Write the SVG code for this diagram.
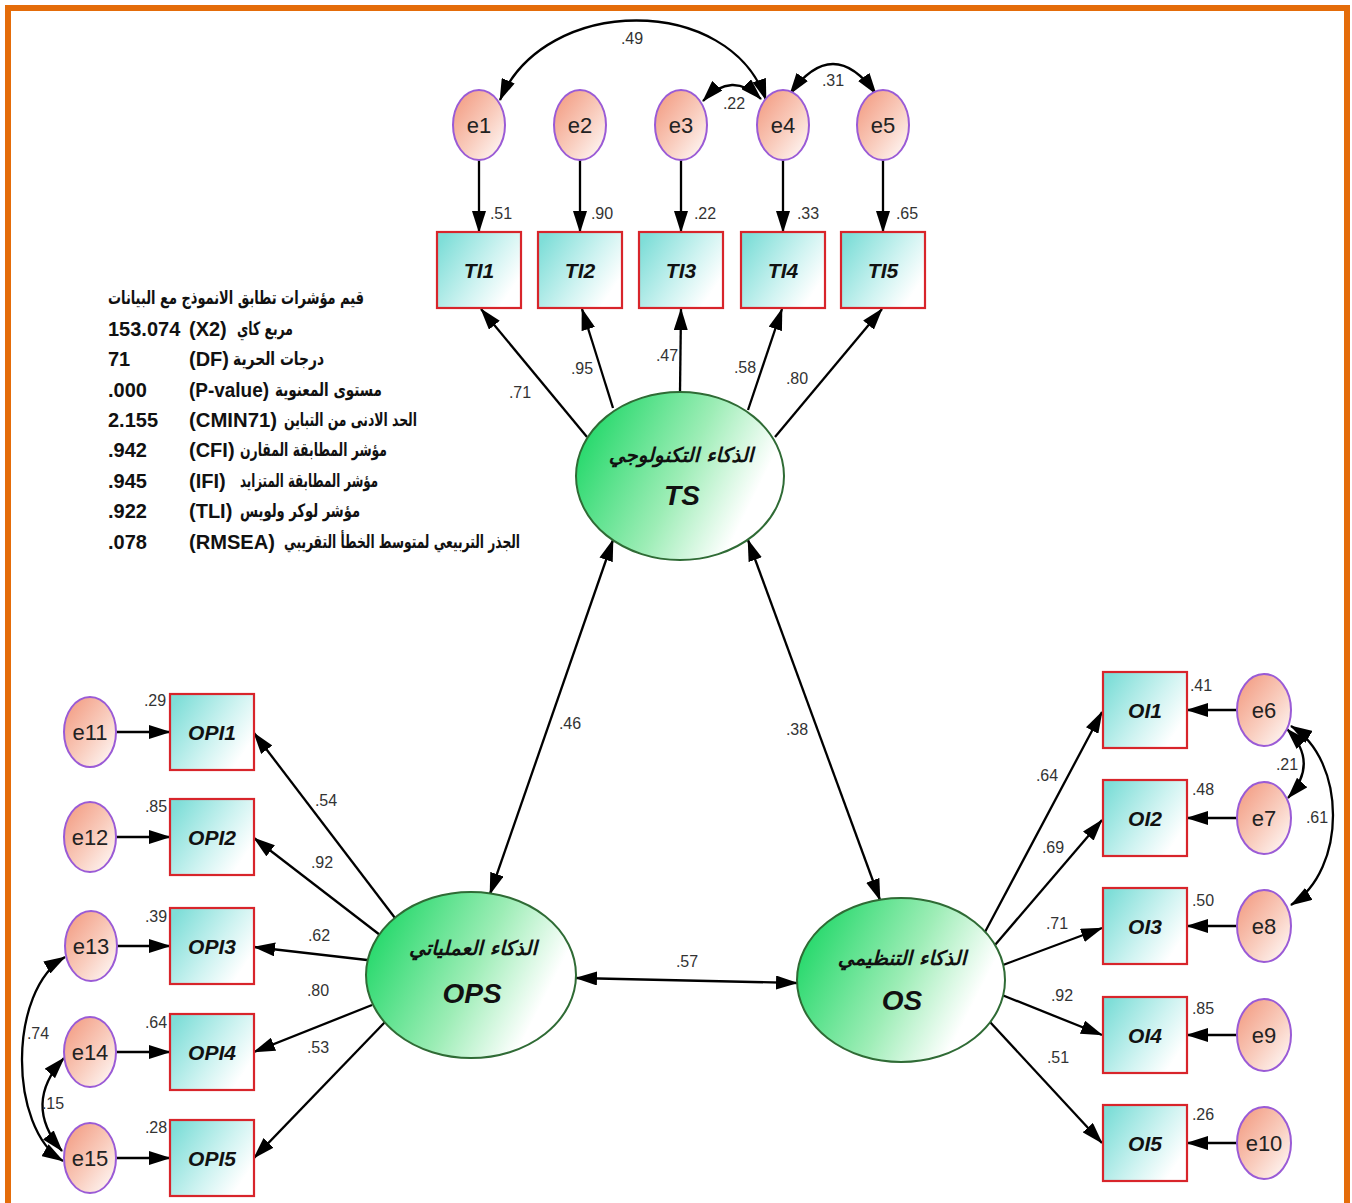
<svg xmlns="http://www.w3.org/2000/svg" width="1352" height="1203" viewBox="0 0 1352 1203">
  <defs>
    <linearGradient id="gErr" x1="0" y1="0" x2="1" y2="1">
      <stop offset="0" stop-color="#F2957A"/>
      <stop offset="0.55" stop-color="#F9CDBE"/>
      <stop offset="1" stop-color="#FFFFFF"/>
    </linearGradient>
    <linearGradient id="gBox" x1="0" y1="0.2" x2="1" y2="0.8">
      <stop offset="0" stop-color="#7FDED8"/>
      <stop offset="0.55" stop-color="#CFF3F1"/>
      <stop offset="0.9" stop-color="#FFFFFF"/>
    </linearGradient>
    <linearGradient id="gLat" x1="0" y1="0.3" x2="1" y2="0.7">
      <stop offset="0" stop-color="#22D869"/>
      <stop offset="0.5" stop-color="#9DEDB6"/>
      <stop offset="0.85" stop-color="#FFFFFF"/>
    </linearGradient>
    <marker id="ah" viewBox="0 0 22 14" refX="21" refY="7" markerWidth="22" markerHeight="14" markerUnits="userSpaceOnUse" orient="auto-start-reverse">
      <path d="M0,0 L22,7 L0,14 z" fill="#000"/>
    </marker>
  </defs>
  <style>
    .err { fill: url(#gErr); stroke: #9A5BD6; stroke-width: 2; }
    .box { fill: url(#gBox); stroke: #D8252B; stroke-width: 2.2; }
    .lat { fill: url(#gLat); stroke: #2F6B35; stroke-width: 2; }
    .elab { font-family: "Liberation Sans", Arial, sans-serif; font-size: 22px; fill: #222; text-anchor: middle; }
    .blab { font-family: "Liberation Sans", Arial, sans-serif; font-size: 21px; font-weight: bold; font-style: italic; fill: #111; text-anchor: middle; }
    .ar { font-family: "DejaVu Sans", "Noto Sans", sans-serif; font-size: 20px; font-weight: bold; font-style: italic; fill: #111; text-anchor: middle; }
    .code { font-family: "Liberation Sans", Arial, sans-serif; font-size: 28px; font-weight: bold; font-style: italic; fill: #111; text-anchor: middle; }
    .num { font-family: "Liberation Sans", Arial, sans-serif; font-size: 16px; fill: #333; text-anchor: middle; }
    .fit { font-family: "Liberation Sans", "DejaVu Sans", sans-serif; font-size: 20px; font-weight: bold; fill: #111; }
    .fitar { font-family: "DejaVu Sans", "Liberation Sans", sans-serif; font-size: 18.5px; font-weight: bold; fill: #111; }
    .ln { fill: none; stroke: #000; stroke-width: 2.3; marker-end: url(#ah); }
    .cv { fill: none; stroke: #000; stroke-width: 2.3; marker-start: url(#ah); marker-end: url(#ah); }
  </style>

  <rect x="0" y="0" width="1352" height="1203" fill="#FFFFFF"/>
  <rect x="8" y="8" width="1339" height="1230" fill="none" stroke="#E46C0A" stroke-width="6"/>

  <!-- connectors -->
  <g id="connectors">
    <!-- error terms to TI indicators -->
    <path class="ln" d="M479,160 L479,232"/>
    <path class="ln" d="M580,160 L580,232"/>
    <path class="ln" d="M681,160 L681,232"/>
    <path class="ln" d="M783,160 L783,232"/>
    <path class="ln" d="M883,160 L883,232"/>
    <!-- TS loadings -->
    <path class="ln" d="M587,437 L481,309"/>
    <path class="ln" d="M613,408 L582,309"/>
    <path class="ln" d="M680,392 L681,309"/>
    <path class="ln" d="M748,410 L782,309"/>
    <path class="ln" d="M775,437 L882,309"/>
    <!-- error covariances, top -->
    <path class="cv" d="M766,100 C730,-6 545,-6 500,100"/>
    <path class="cv" d="M703,101 Q732,70 761,99"/>
    <path class="cv" d="M790,94 Q833,34 876,94"/>
    <!-- latent covariances -->
    <path class="cv" d="M613,540 L490,894"/>
    <path class="cv" d="M748,540 L880,900"/>
    <path class="cv" d="M576,978 L797,983"/>
    <!-- OPS loadings -->
    <path class="ln" d="M395,918 L254,733"/>
    <path class="ln" d="M380,935 L254,838"/>
    <path class="ln" d="M367,960 L254,947"/>
    <path class="ln" d="M372,1005 L254,1052"/>
    <path class="ln" d="M385,1022 L254,1158"/>
    <!-- errors to OPI indicators -->
    <path class="ln" d="M116,732 L170,732"/>
    <path class="ln" d="M116,837 L170,837"/>
    <path class="ln" d="M116,946 L170,946"/>
    <path class="ln" d="M116,1052 L170,1052"/>
    <path class="ln" d="M116,1158 L170,1158"/>
    <!-- error covariances, left -->
    <path class="cv" d="M65,957 C8,990 8,1128 63,1161"/>
    <path class="cv" d="M64,1058 Q22,1104 62,1151"/>
    <!-- OS loadings -->
    <path class="ln" d="M985,932 L1102,712"/>
    <path class="ln" d="M995,945 L1102,820"/>
    <path class="ln" d="M1003,965 L1102,928"/>
    <path class="ln" d="M1002,995 L1102,1035"/>
    <path class="ln" d="M990,1022 L1102,1143"/>
    <!-- errors to OI indicators -->
    <path class="ln" d="M1237,710 L1187,710"/>
    <path class="ln" d="M1237,818 L1187,818"/>
    <path class="ln" d="M1237,926 L1187,926"/>
    <path class="ln" d="M1237,1035 L1187,1035"/>
    <path class="ln" d="M1237,1143 L1187,1143"/>
    <!-- error covariances, right -->
    <path class="cv" d="M1287,729 Q1320,763 1288,798"/>
    <path class="cv" d="M1291,726 C1347,760 1347,870 1291,905"/>
  </g>

  <!-- path coefficients and squared multiple correlations -->
  <g id="coefficients">
    <text class="num" x="632" y="44">.49</text>
    <text class="num" x="734" y="109">.22</text>
    <text class="num" x="833" y="86">.31</text>
    <text class="num" x="501" y="219">.51</text>
    <text class="num" x="602" y="219">.90</text>
    <text class="num" x="705" y="219">.22</text>
    <text class="num" x="808" y="219">.33</text>
    <text class="num" x="907" y="219">.65</text>
    <text class="num" x="520" y="398">.71</text>
    <text class="num" x="582" y="374">.95</text>
    <text class="num" x="667" y="361">.47</text>
    <text class="num" x="745" y="373">.58</text>
    <text class="num" x="797" y="384">.80</text>
    <text class="num" x="570" y="729">.46</text>
    <text class="num" x="797" y="735">.38</text>
    <text class="num" x="687" y="967">.57</text>
    <text class="num" x="326" y="806">.54</text>
    <text class="num" x="322" y="868">.92</text>
    <text class="num" x="319" y="941">.62</text>
    <text class="num" x="318" y="996">.80</text>
    <text class="num" x="318" y="1053">.53</text>
    <text class="num" x="155" y="706">.29</text>
    <text class="num" x="156" y="812">.85</text>
    <text class="num" x="156" y="922">.39</text>
    <text class="num" x="156" y="1028">.64</text>
    <text class="num" x="156" y="1133">.28</text>
    <text class="num" x="38" y="1039">.74</text>
    <text class="num" x="53" y="1109">.15</text>
    <text class="num" x="1047" y="781">.64</text>
    <text class="num" x="1053" y="853">.69</text>
    <text class="num" x="1057" y="929">.71</text>
    <text class="num" x="1062" y="1001">.92</text>
    <text class="num" x="1058" y="1063">.51</text>
    <text class="num" x="1201" y="691">.41</text>
    <text class="num" x="1203" y="795">.48</text>
    <text class="num" x="1203" y="906">.50</text>
    <text class="num" x="1203" y="1014">.85</text>
    <text class="num" x="1203" y="1120">.26</text>
    <text class="num" x="1287" y="770">.21</text>
    <text class="num" x="1317" y="823">.61</text>
  </g>

  <!-- error terms, technological indicators -->
  <g id="e1"><ellipse class="err" cx="479" cy="125" rx="26" ry="35"/><text class="elab" x="479" y="133">e1</text></g>
  <g id="e2"><ellipse class="err" cx="580" cy="125" rx="26" ry="35"/><text class="elab" x="580" y="133">e2</text></g>
  <g id="e3"><ellipse class="err" cx="681" cy="125" rx="26" ry="35"/><text class="elab" x="681" y="133">e3</text></g>
  <g id="e4"><ellipse class="err" cx="783" cy="125" rx="26" ry="35"/><text class="elab" x="783" y="133">e4</text></g>
  <g id="e5"><ellipse class="err" cx="883" cy="125" rx="26" ry="35"/><text class="elab" x="883" y="133">e5</text></g>

  <!-- technological indicators -->
  <g id="TI1"><rect class="box" x="437" y="232" width="84" height="76"/><text class="blab" x="479" y="278">TI1</text></g>
  <g id="TI2"><rect class="box" x="538" y="232" width="84" height="76"/><text class="blab" x="580" y="278">TI2</text></g>
  <g id="TI3"><rect class="box" x="639" y="232" width="84" height="76"/><text class="blab" x="681" y="278">TI3</text></g>
  <g id="TI4"><rect class="box" x="741" y="232" width="84" height="76"/><text class="blab" x="783" y="278">TI4</text></g>
  <g id="TI5"><rect class="box" x="841" y="232" width="84" height="76"/><text class="blab" x="883" y="278">TI5</text></g>

  <!-- latent constructs -->
  <g id="TS">
    <ellipse class="lat" cx="680" cy="476" rx="104" ry="84"/>
    <text class="ar" x="681" y="462">الذكاء التكنولوجي</text>
    <text class="code" x="682" y="505">TS</text>
  </g>
  <g id="OPS">
    <ellipse class="lat" cx="471" cy="975" rx="105" ry="83"/>
    <text class="ar" x="473" y="955">الذكاء العملياتي</text>
    <text class="code" x="472" y="1003">OPS</text>
  </g>
  <g id="OS">
    <ellipse class="lat" cx="901" cy="980" rx="104" ry="82"/>
    <text class="ar" x="902" y="965">الذكاء التنظيمي</text>
    <text class="code" x="902" y="1010">OS</text>
  </g>

  <!-- operational indicators and their errors -->
  <g id="OPI1"><rect class="box" x="170" y="694" width="84" height="76"/><text class="blab" x="212" y="740">OPI1</text></g>
  <g id="OPI2"><rect class="box" x="170" y="799" width="84" height="76"/><text class="blab" x="212" y="845">OPI2</text></g>
  <g id="OPI3"><rect class="box" x="170" y="908" width="84" height="76"/><text class="blab" x="212" y="954">OPI3</text></g>
  <g id="OPI4"><rect class="box" x="170" y="1014" width="84" height="76"/><text class="blab" x="212" y="1060">OPI4</text></g>
  <g id="OPI5"><rect class="box" x="170" y="1120" width="84" height="76"/><text class="blab" x="212" y="1166">OPI5</text></g>
  <g id="e11"><ellipse class="err" cx="90" cy="732" rx="26" ry="35"/><text class="elab" x="90" y="740">e11</text></g>
  <g id="e12"><ellipse class="err" cx="90" cy="837" rx="26" ry="35"/><text class="elab" x="90" y="845">e12</text></g>
  <g id="e13"><ellipse class="err" cx="91" cy="946" rx="26" ry="35"/><text class="elab" x="91" y="954">e13</text></g>
  <g id="e14"><ellipse class="err" cx="90" cy="1052" rx="26" ry="35"/><text class="elab" x="90" y="1060">e14</text></g>
  <g id="e15"><ellipse class="err" cx="90" cy="1158" rx="26" ry="35"/><text class="elab" x="90" y="1166">e15</text></g>

  <!-- organizational indicators and their errors -->
  <g id="OI1"><rect class="box" x="1103" y="672" width="84" height="76"/><text class="blab" x="1145" y="718">OI1</text></g>
  <g id="OI2"><rect class="box" x="1103" y="780" width="84" height="76"/><text class="blab" x="1145" y="826">OI2</text></g>
  <g id="OI3"><rect class="box" x="1103" y="888" width="84" height="76"/><text class="blab" x="1145" y="934">OI3</text></g>
  <g id="OI4"><rect class="box" x="1103" y="997" width="84" height="76"/><text class="blab" x="1145" y="1043">OI4</text></g>
  <g id="OI5"><rect class="box" x="1103" y="1105" width="84" height="76"/><text class="blab" x="1145" y="1151">OI5</text></g>
  <g id="e6"><ellipse class="err" cx="1264" cy="710" rx="27" ry="36"/><text class="elab" x="1264" y="718">e6</text></g>
  <g id="e7"><ellipse class="err" cx="1264" cy="818" rx="27" ry="36"/><text class="elab" x="1264" y="826">e7</text></g>
  <g id="e8"><ellipse class="err" cx="1264" cy="926" rx="27" ry="36"/><text class="elab" x="1264" y="934">e8</text></g>
  <g id="e9"><ellipse class="err" cx="1264" cy="1035" rx="27" ry="36"/><text class="elab" x="1264" y="1043">e9</text></g>
  <g id="e10"><ellipse class="err" cx="1264" cy="1143" rx="27" ry="36"/><text class="elab" x="1264" y="1151">e10</text></g>

  <!-- model fit summary -->
  <g id="fit-table">
    <text class="fitar" x="108" y="304" textLength="256" lengthAdjust="spacingAndGlyphs">قيم مؤشرات تطابق الانموذج مع البيانات</text>
    <text class="fit" x="108" y="336">153.074</text>
    <text class="fit" x="108" y="366">71</text>
    <text class="fit" x="108" y="397">.000</text>
    <text class="fit" x="108" y="427">2.155</text>
    <text class="fit" x="108" y="457">.942</text>
    <text class="fit" x="108" y="488">.945</text>
    <text class="fit" x="108" y="518">.922</text>
    <text class="fit" x="108" y="549">.078</text>
    <text class="fit" x="189" y="336">(X2)</text>
    <text class="fit" x="189" y="366">(DF)</text>
    <text class="fit" x="189" y="397" textLength="80" lengthAdjust="spacingAndGlyphs">(P-value)</text>
    <text class="fit" x="189" y="427" textLength="88" lengthAdjust="spacingAndGlyphs">(CMIN71)</text>
    <text class="fit" x="189" y="457">(CFI)</text>
    <text class="fit" x="189" y="488">(IFI)</text>
    <text class="fit" x="189" y="518">(TLI)</text>
    <text class="fit" x="189" y="549" textLength="86" lengthAdjust="spacingAndGlyphs">(RMSEA)</text>
    <text class="fitar" x="237" y="335" textLength="56" lengthAdjust="spacingAndGlyphs">مربع كاي</text>
    <text class="fitar" x="233" y="365" textLength="91" lengthAdjust="spacingAndGlyphs">درجات الحرية</text>
    <text class="fitar" x="275" y="396" textLength="107" lengthAdjust="spacingAndGlyphs">مستوى المعنوية</text>
    <text class="fitar" x="284" y="426" textLength="133" lengthAdjust="spacingAndGlyphs">الحد الادنى من التباين</text>
    <text class="fitar" x="240" y="456" textLength="147" lengthAdjust="spacingAndGlyphs">مؤشر المطابقة المقارن</text>
    <text class="fitar" x="240" y="487" textLength="138" lengthAdjust="spacingAndGlyphs">مؤشر المطابقة المتزايد</text>
    <text class="fitar" x="240" y="517" textLength="120" lengthAdjust="spacingAndGlyphs">مؤشر لوكر ولويس</text>
    <text class="fitar" x="284" y="548" textLength="236" lengthAdjust="spacingAndGlyphs">الجذر التربيعي لمتوسط الخطأ التقريبي</text>
  </g>
</svg>
